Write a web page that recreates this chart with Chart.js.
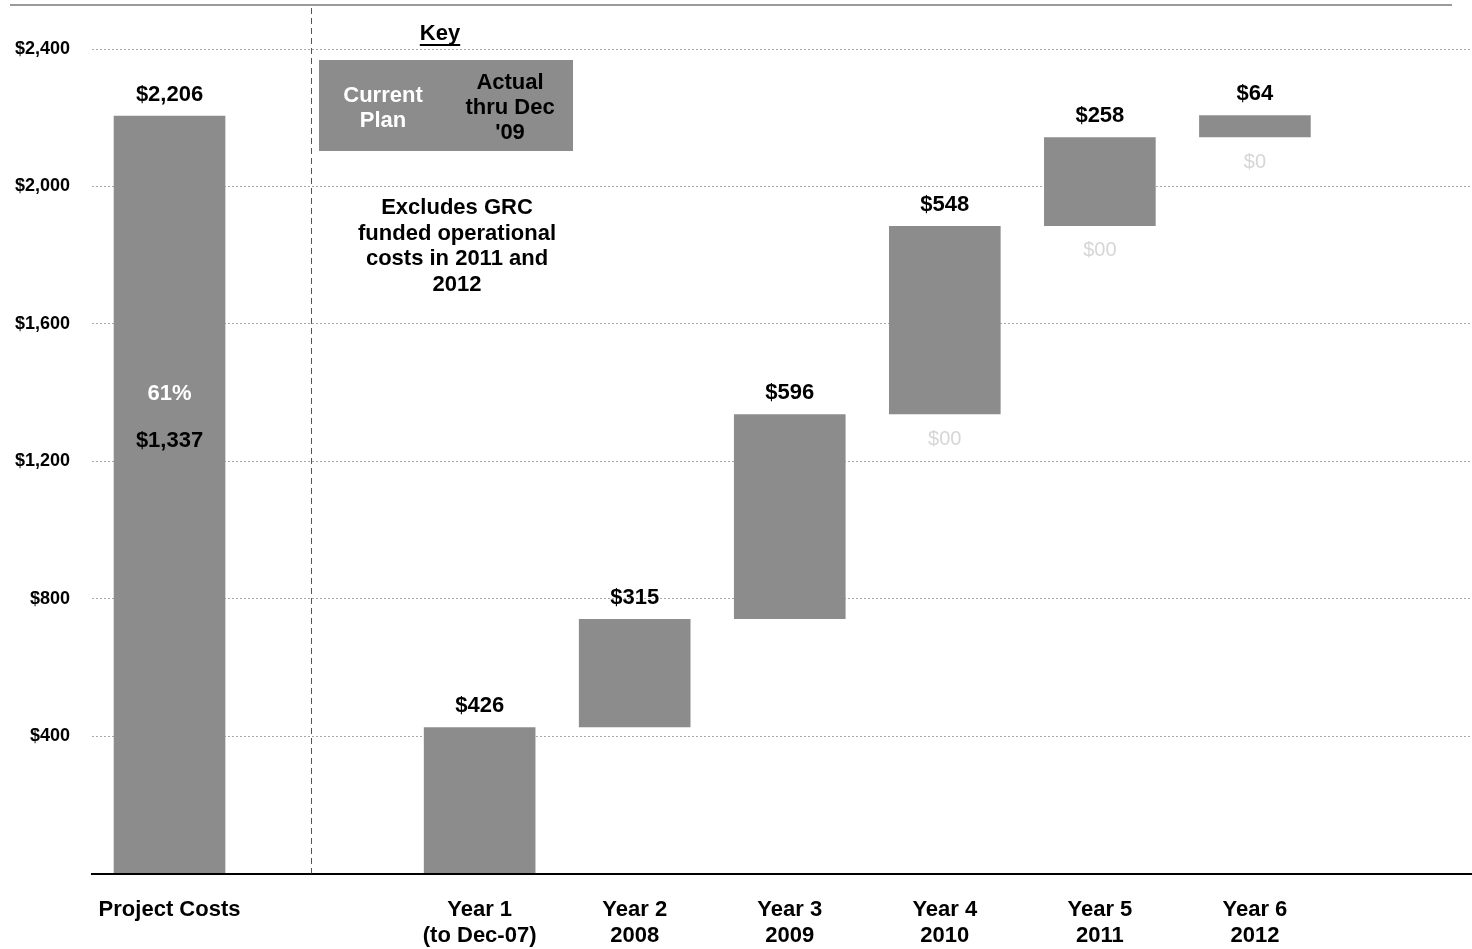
<!DOCTYPE html>
<html>
<head>
<meta charset="utf-8">
<script src="https://cdn.jsdelivr.net/npm/chart.js@4/dist/chart.umd.min.js"></script>
<style>
  html, body { margin: 0; padding: 0; background: #fff; overflow: hidden; }
  #wrap { width: 1472px; height: 949px; position: relative; }
</style>
</head>
<body>
<div id="wrap"><canvas id="c"></canvas></div>
<script>
// ---- data ----
const categories = ['Project Costs', '', 'Year 1', 'Year 2', 'Year 3', 'Year 4', 'Year 5', 'Year 6'];
const categorySubLabels = ['', '', '(to Dec-07)', '2008', '2009', '2010', '2011', '2012'];
const projectTotal = 2206;
const actualToDate = 1337;
const actualPctLabel = '61%';
const yearlyPlan = [426, 315, 596, 548, 258, 64];
const yearlyActualLabels = ['', '', '', '$00', '$00', '$0'];
const yTicks = [400, 800, 1200, 1600, 2000, 2400];
const keyTitle = 'Key';
const keyPlanLines = ['Current', 'Plan'];
const keyActualLines = ['Actual', 'thru Dec', "'09"];
const noteLines = ['Excludes GRC', 'funded operational', 'costs in 2011 and', '2012'];

// ---- build bars ----
const fmt = v => '$' + v.toLocaleString('en-US');
const bars = [{ x: 0, y: [0, projectTotal], label: fmt(projectTotal), below: '' }];
let run = 0;
yearlyPlan.forEach((v, i) => {
  bars.push({ x: categories.indexOf('Year ' + (i + 1)), y: [run, run + v], label: fmt(v), below: yearlyActualLabels[i] });
  run += v;
});

const FONT = '"Liberation Sans", Arial, sans-serif';
const BAR = '#8c8c8c';

const overlay = {
  id: 'overlay',
  beforeDraw(chart) {
    const ctx = chart.ctx;
    ctx.save();
    ctx.strokeStyle = '#9a9a9a';
    ctx.lineWidth = 2;
    ctx.beginPath(); ctx.moveTo(10, 5); ctx.lineTo(1452, 5); ctx.stroke();
    ctx.restore();
  },
  afterDatasetsDraw(chart) {
    const ctx = chart.ctx;
    const meta = chart.getDatasetMeta(0);
    const ys = chart.scales.y;
    ctx.save();
    ctx.textAlign = 'center';
    ctx.textBaseline = 'middle';
    meta.data.forEach((el, i) => {
      const top = Math.min(el.y, el.base), bot = Math.max(el.y, el.base);
      ctx.font = 'bold 22px ' + FONT;
      ctx.fillStyle = '#000';
      ctx.fillText(bars[i].label, el.x, top - 21);
      if (bars[i].below) {
        ctx.font = '20px ' + FONT;
        ctx.fillStyle = '#d6d6d6';
        ctx.fillText(bars[i].below, el.x, bot + 25);
      }
    });
    const pc = meta.data[0];
    const ay = ys.getPixelForValue(actualToDate);
    ctx.font = 'bold 22px ' + FONT;
    ctx.fillStyle = '#fff';
    ctx.fillText(actualPctLabel, pc.x, ay - 20);
    ctx.fillStyle = '#000';
    ctx.fillText(fmt(actualToDate), pc.x, ay + 27);

    // divider
    ctx.strokeStyle = '#555';
    ctx.lineWidth = 1;
    ctx.setLineDash([6, 4]);
    ctx.beginPath(); ctx.moveTo(311.5, 8); ctx.lineTo(311.5, chart.chartArea.bottom); ctx.stroke();
    ctx.setLineDash([]);

    // key
    ctx.font = 'bold 22px ' + FONT;
    ctx.fillStyle = '#000';
    ctx.fillText(keyTitle, 440, 34);
    const kw = ctx.measureText(keyTitle).width;
    ctx.fillRect(440 - kw / 2, 44, kw, 2);
    ctx.fillStyle = BAR;
    ctx.fillRect(319, 60, 254, 91);
    ctx.fillStyle = '#fff';
    keyPlanLines.forEach((t, i) => ctx.fillText(t, 383, 96 + i * 25));
    ctx.fillStyle = '#000';
    keyActualLines.forEach((t, i) => ctx.fillText(t, 510, 83 + i * 25));

    // note
    noteLines.forEach((t, i) => ctx.fillText(t, 457, 208 + i * 25.7));
    ctx.restore();
  }
};

new Chart(document.getElementById('c'), {
  type: 'bar',
  data: {
    datasets: [{
      data: bars.map(b => ({ x: b.x, y: b.y })),
      backgroundColor: BAR,
      borderWidth: 0,
      categoryPercentage: 0.8,
      barPercentage: 0.9
    }]
  },
  options: {
    responsive: true,
    maintainAspectRatio: false,
    animation: false,
    layout: { padding: { top: 49, right: 0, bottom: 0, left: 0 } },
    plugins: { legend: { display: false }, tooltip: { enabled: false } },
    scales: {
      x: {
        type: 'linear',
        offset: false,
        min: -0.5,
        max: 8.4,
        afterBuildTicks: s => { s.ticks = categories.map((c, i) => ({ value: i })); },
        afterFit: s => { s.height = 75.5; },
        grid: { display: false, drawTicks: false, offset: false },
        border: { display: true, color: '#000', width: 2 },
        ticks: {
          padding: 23,
          color: '#000',
          font: { family: FONT, size: 22, weight: 'bold', lineHeight: 1.2 },
          maxRotation: 0,
          autoSkip: false,
          callback: v => {
            const c = categories[v];
            if (!c) return '';
            return categorySubLabels[v] ? [c, categorySubLabels[v]] : c;
          }
        }
      },
      y: {
        min: 0,
        max: 2400,
        afterBuildTicks: s => { s.ticks = [0].concat(yTicks).map(v => ({ value: v })); },
        afterFit: s => { s.width = 92; },
        border: { display: false, dash: [2, 2] },
        grid: {
          drawTicks: false,
          color: ctx => ctx.tick && ctx.tick.value === 0 ? 'rgba(0,0,0,0)' : '#a8a8a8',
          lineWidth: 1
        },
        ticks: {
          padding: 22,
          color: '#000',
          font: { family: FONT, size: 18, weight: 'bold' },
          callback: v => v === 0 ? '' : fmt(v)
        }
      }
    }
  },
  plugins: [overlay]
});
</script>
</body>
</html>
